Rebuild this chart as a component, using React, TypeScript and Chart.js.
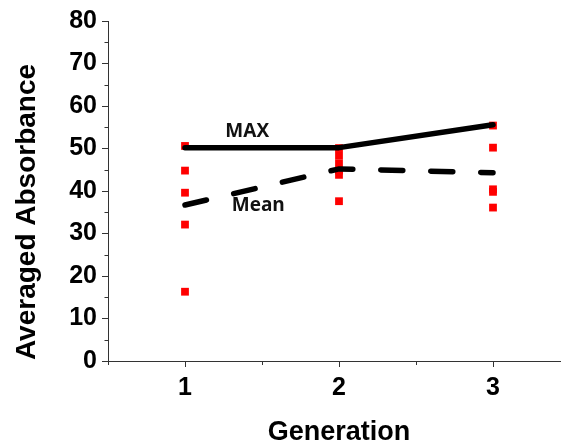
import { useEffect, useRef } from "react";
import { Chart, registerables } from "chart.js";

Chart.register(...registerables);

const generations = [1, 2, 3];
const gen1Values = [50.6, 44.8, 39.6, 32.1, 16.3];
const gen2Values = [50.1, 48.3, 46.5, 44.8, 43.8, 37.6];
const gen3Values = [55.4, 50.2, 40.4, 39.8, 36.1];
const maxValues = [50.2, 50.2, 55.6];
const meanValues = [36.7, 45.2, 44.3];
const yTickValues = [0, 10, 20, 30, 40, 50, 60, 70, 80];
const xTickValues = [1, 2, 3];
const yMinorTicks = [5, 15, 25, 35, 45, 55, 65, 75];
const xMinorTicks = [0.5, 1.5, 2.5, 3.5];
const labelTexts = ["MAX", "Mean"];
const labelX = [1.404, 1.476];
const labelY = [54.0, 36.6];
const xTitle = "Generation";
const yTitle = "Averaged Absorbance";

const AXIS_COLOR = "#333";
const FONT = "'Liberation Sans', Arial, sans-serif";

const extrasPlugin = {
  id: "extras",
  afterDatasetsDraw(chart: any) {
    const ctx = chart.ctx;
    const xs = chart.scales.x;
    const ys = chart.scales.y;
    ctx.save();
    // minor ticks
    ctx.strokeStyle = AXIS_COLOR;
    ctx.lineWidth = 1;
    ctx.beginPath();
    const left = chart.chartArea.left;
    const bottom = chart.chartArea.bottom;
    yMinorTicks.forEach((v) => {
      const p = Math.round(ys.getPixelForValue(v)) + 0.5;
      ctx.moveTo(left - 3.5, p);
      ctx.lineTo(left, p);
    });
    xMinorTicks.forEach((v) => {
      const p = Math.round(xs.getPixelForValue(v)) + 0.5;
      ctx.moveTo(p, bottom);
      ctx.lineTo(p, bottom + 4);
    });
    ctx.stroke();
    // line labels
    ctx.fillStyle = "#111";
    ctx.font = "bold 19px 'Open Sans', 'Liberation Sans', sans-serif";
    ctx.textAlign = "center";
    ctx.textBaseline = "middle";
    labelTexts.forEach((t, i) => {
      ctx.fillText(t, xs.getPixelForValue(labelX[i]), ys.getPixelForValue(labelY[i]));
    });
    // axis titles
    ctx.fillStyle = "#000";
    ctx.textBaseline = "alphabetic";
    ctx.font = `bold 27px ${FONT}`;
    ctx.fillText(xTitle, (chart.chartArea.left + xs.getPixelForValue(3.5)) / 2, 440);
    ctx.translate(35, (chart.chartArea.top + chart.chartArea.bottom) / 2 + 21);
    ctx.rotate(-Math.PI / 2);
    ctx.font = `bold 28px ${FONT}`;
    ctx.fillText(yTitle, 0, 0);
    ctx.restore();
  },
};

function pointsFor(x: number, values: number[]) {
  return values.map((v) => ({ x, y: v }));
}

function pointDataset(label: string, x: number, values: number[]) {
  return {
    label,
    data: pointsFor(x, values),
    pointStyle: "rect",
    pointRadius: 5.5,
    pointBorderWidth: 0,
    backgroundColor: "#ff0000",
    borderColor: "#ff0000",
  };
}

export default function App() {
  const ref = useRef<HTMLCanvasElement | null>(null);
  useEffect(() => {
    if (!ref.current) return;
    const chart = new Chart(ref.current, {
      type: "scatter",
      data: {
        datasets: [
          {
            label: "MAX",
            data: generations.map((g, i) => ({ x: g, y: maxValues[i] })),
            showLine: true,
            borderColor: "#000",
            borderWidth: 5.5,
            pointRadius: 0,
            borderCapStyle: "round",
            borderJoinStyle: "round",
          },
          {
            label: "Mean",
            data: generations.map((g, i) => ({ x: g, y: meanValues[i] })),
            showLine: true,
            borderColor: "#000",
            borderWidth: 5.5,
            borderDash: [22, 28],
            borderCapStyle: "round",
            pointRadius: 0,
          },
          pointDataset("Gen 1", generations[0], gen1Values),
          pointDataset("Gen 2", generations[1], gen2Values),
          pointDataset("Gen 3", generations[2], gen3Values),
        ],
      },
      options: {
        responsive: false,
        animation: false,
        layout: { padding: { left: 0, top: 21, right: 10, bottom: 0 } },
        plugins: { legend: { display: false }, tooltip: { enabled: false } },
        scales: {
          x: {
            type: "linear",
            min: 0.5,
            max: 3.5,
            afterBuildTicks: (s: any) => {
              s.ticks = xTickValues.map((v) => ({ value: v }));
            },
            afterFit: (s: any) => {
              s.height = 83;
            },
            grid: { drawOnChartArea: false, drawTicks: true, tickLength: 6, color: AXIS_COLOR },
            border: { color: AXIS_COLOR, width: 1 },
            ticks: {
              color: "#000",
              padding: 6,
              font: { family: FONT, size: 25, weight: "bold" },
            },
          },
          y: {
            type: "linear",
            min: 0,
            max: 80,
            afterBuildTicks: (s: any) => {
              s.ticks = yTickValues.map((v) => ({ value: v }));
            },
            afterFit: (s: any) => {
              s.width = 108;
            },
            grid: { drawOnChartArea: false, drawTicks: true, tickLength: 6, color: AXIS_COLOR },
            border: { color: AXIS_COLOR, width: 1 },
            ticks: {
              color: "#000",
              padding: 5,
              font: { family: FONT, size: 25, weight: "bold" },
            },
          },
        },
      },
      plugins: [extrasPlugin],
    } as any);
    return () => chart.destroy();
  }, []);

  return (
    <div style={{ position: "absolute", left: 0, top: 0, width: 561, height: 444, overflow: "hidden", background: "#fff" }}>
      <canvas ref={ref} width={580} height={444} style={{ display: "block" }} />
    </div>
  );
}
